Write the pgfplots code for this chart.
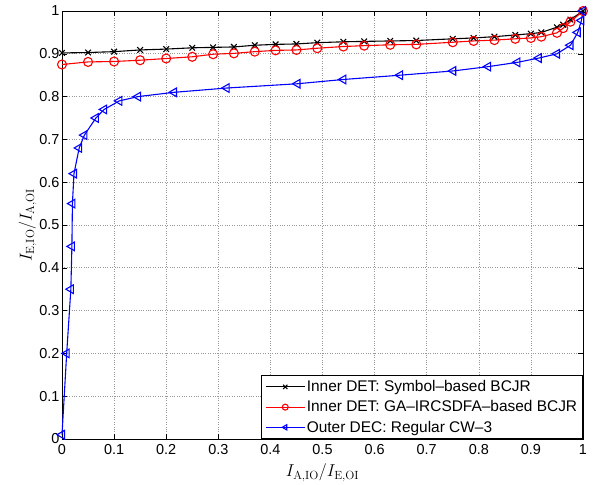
\documentclass[border=0pt]{standalone}
\usepackage{fontspec}
\usepackage{pgfplots}
\pgfplotsset{compat=1.18}
\newfontfamily\arialfont[Ligatures=TeX]{Liberation Sans}
\begin{document}
\begin{tikzpicture}
\begin{axis}[
  scale only axis,
  width=521bp, height=428bp,
  xmin=0, xmax=1, ymin=0, ymax=1,
  xtick={0,0.1,...,1}, ytick={0,0.1,...,1},
  /pgf/number format/assume math mode=true,
  ticklabel style={font=\arialfont\fontsize{14.5}{16}\selectfont},
  xticklabel style={yshift=-2bp},
  yticklabel style={xshift=1bp},
  grid=major,
  grid style={dotted, gray!80, line width=0.6pt},
  major tick length=5bp,
  axis line style={line width=0.7pt},
  tick style={line width=0.5pt, black},
  clip=false,
  xlabel={$I_{\mathrm{A,IO}}/I_{\mathrm{E,OI}}$},
  ylabel={$I_{\mathrm{E,IO}}/I_{\mathrm{A,OI}}$},
  label style={font=\fontsize{17}{19}\selectfont},
  xlabel style={yshift=-2bp},
  ylabel style={yshift=-4bp},
  legend style={at={(1,0)}, anchor=south east, draw=black, line width=0.7pt,
    font=\arialfont\fontsize{15.5}{17}\selectfont, row sep=4.5bp,
    inner xsep=4bp, inner ysep=3.5bp,
    nodes={inner sep=1.5bp}},
  legend cell align=left,
  legend image code/.code={
    \draw[#1, mark size=3bp] (0bp,0bp) -- (39bp,0bp);
    \draw[#1, mark size=3bp, only marks] plot coordinates {(19.5bp,0bp)};
  },
]
\addplot[black, line width=1.1pt, mark=x, mark size=4bp] coordinates {
(0,0.902) (0.05,0.903) (0.1,0.905) (0.15,0.909) (0.2,0.911) (0.25,0.914)
(0.29,0.915) (0.33,0.916) (0.37,0.920) (0.41,0.922) (0.45,0.923) (0.49,0.926)
(0.54,0.928) (0.58,0.929) (0.63,0.930) (0.68,0.931) (0.75,0.935) (0.79,0.937)
(0.83,0.940) (0.87,0.944) (0.90,0.947) (0.92,0.950) (0.95,0.962) (0.962,0.968)
(0.976,0.980) (1.0,1.0)};
\addlegendentry{Inner DET: Symbol–based BCJR}
\addplot[red, line width=1.1pt, mark=o, mark size=4.5bp] coordinates {
(0,0.875) (0.05,0.881) (0.1,0.882) (0.15,0.885) (0.2,0.889) (0.25,0.893)
(0.29,0.899) (0.33,0.901) (0.37,0.905) (0.41,0.908) (0.45,0.909) (0.49,0.913)
(0.54,0.917) (0.58,0.919) (0.63,0.921) (0.68,0.922) (0.75,0.927) (0.79,0.930)
(0.83,0.932) (0.87,0.935) (0.90,0.937) (0.92,0.940) (0.95,0.949) (0.962,0.960)
(0.976,0.975) (1.0,1.0)};
\addlegendentry{Inner DET: GA–IRCSDFA–based BCJR}
\addplot[blue, line width=1.1pt, mark=triangle, mark size=5bp, mark options={rotate=90}] coordinates {
(0,0.01) (0.009,0.20) (0.017,0.35) (0.019,0.45) (0.020,0.55) (0.023,0.62)
(0.033,0.68) (0.043,0.71) (0.065,0.75) (0.081,0.77) (0.11,0.79) (0.146,0.80)
(0.215,0.81) (0.316,0.82) (0.452,0.83) (0.54,0.84) (0.649,0.85) (0.751,0.86)
(0.818,0.87) (0.874,0.88) (0.915,0.89) (0.95,0.90) (0.976,0.92) (0.99,0.95)
(0.997,0.978) (1.0,1.0)};
\addlegendentry{Outer DEC: Regular CW–3}
\end{axis}
\pgfresetboundingbox
\path (current axis.south west) ++(-62bp,-46bp) coordinate (bl);
\path (current axis.north east) ++(12bp,11bp) coordinate (tr);
\path (bl) rectangle (tr);
\end{tikzpicture}
\end{document}
